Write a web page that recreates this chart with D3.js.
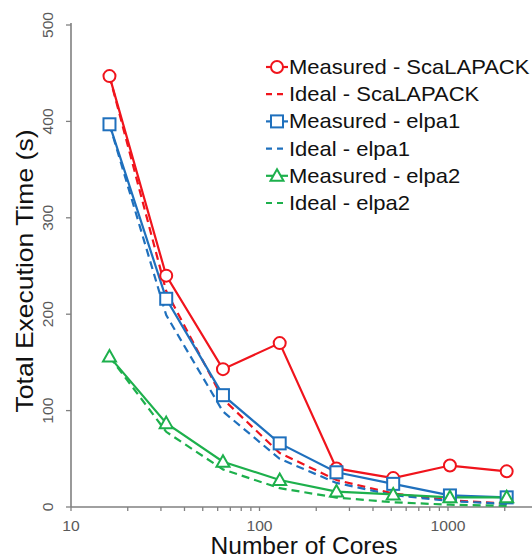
<!DOCTYPE html>
<html>
<head>
<meta charset="utf-8">
<script src="https://cdn.jsdelivr.net/npm/d3@7"></script>
<style>
  html, body { margin: 0; padding: 0; background: #fff; }
  svg { display: block; font-family: "Liberation Sans", Arial, sans-serif; }
</style>
</head>
<body>
<svg id="chart" width="532" height="560"></svg>
<script>
// Core counts on the x axis
const cores = [16, 32, 64, 128, 256, 512, 1024, 2048];

// Total execution time (s) per configuration
const measuredScalapack = [447, 240, 143, 170, 40, 30, 43, 37];
const idealScalapack    = [447, 224, 112, 56, 28, 14, 7, 3.5];
const measuredElpa1     = [397, 216, 116, 66, 36, 24, 12, 10];
const idealElpa1        = [397, 199, 99, 50, 25, 12.4, 6.2, 3.1];
const measuredElpa2     = [156, 87, 47, 28, 16, 13, 10, 10];
const idealElpa2        = [156, 78, 39, 19.5, 9.8, 4.9, 2.4, 1.2];

const yTicks = [0, 100, 200, 300, 400, 500];
const xTicks = [10, 100, 1000];

const seriesNames = [
  "Measured - ScaLAPACK", "Ideal - ScaLAPACK",
  "Measured - elpa1", "Ideal - elpa1",
  "Measured - elpa2", "Ideal - elpa2"
];

const RED = "#f0141c", BLUE = "#1f70bd", GREEN = "#1db04c";

const series = [
  { name: seriesNames[0], values: measuredScalapack, color: RED,   dashed: false, marker: "circle" },
  { name: seriesNames[1], values: idealScalapack,    color: RED,   dashed: true },
  { name: seriesNames[2], values: measuredElpa1,     color: BLUE,  dashed: false, marker: "square" },
  { name: seriesNames[3], values: idealElpa1,        color: BLUE,  dashed: true },
  { name: seriesNames[4], values: measuredElpa2,     color: GREEN, dashed: false, marker: "triangle" },
  { name: seriesNames[5], values: idealElpa2,        color: GREEN, dashed: true }
];

const svg = d3.select("#chart");
const x0 = 71, yBottom = 507, yTop = 25;
const decade = 188.5;

const x = d3.scaleLog().domain([10, 1000]).range([x0, x0 + 2 * decade]);
const y = d3.scaleLinear().domain([0, 500]).range([yBottom, yTop]);
const axisColor = "#808080";

// X axis with log minor ticks, running off the right edge
const gx = svg.append("g").attr("transform", `translate(0,${yBottom})`);
const minor = [];
for (let d = 10; d < 10000; d *= 10) for (let k = 1; k < 10; k++) minor.push(d * k);
gx.append("line").attr("x1", x0).attr("x2", 532).attr("stroke", axisColor).attr("stroke-width", 1.6);
gx.selectAll("line.tick").data(minor.filter(v => x(v) <= 532)).join("line")
  .attr("class", "tick")
  .attr("x1", d => x(d)).attr("x2", d => x(d))
  .attr("y1", 0).attr("y2", 4)
  .attr("stroke", axisColor).attr("stroke-width", 1.3);
gx.selectAll("text").data(xTicks).join("text")
  .attr("transform", d => `translate(${x(d)},24) scale(1.08,1)`)
  .attr("text-anchor", "middle")
  .attr("fill", "#595959")
  .attr("font-size", 14.5)
  .text(d => d);

// Y axis with rotated tick labels
const gy = svg.append("g");
gy.append("line").attr("x1", x0).attr("x2", x0).attr("y1", yTop - 2).attr("y2", yBottom)
  .attr("stroke", axisColor).attr("stroke-width", 1.6);
gy.selectAll("line.tick").data(yTicks).join("line")
  .attr("class", "tick")
  .attr("x1", x0 - 5).attr("x2", x0)
  .attr("y1", d => y(d)).attr("y2", d => y(d))
  .attr("stroke", axisColor).attr("stroke-width", 1.3);
gy.selectAll("text").data(yTicks).join("text")
  .attr("transform", d => `translate(53,${y(d)}) rotate(-90) scale(1.08,1)`)
  .attr("text-anchor", "middle")
  .attr("fill", "#595959")
  .attr("font-size", 14.5)
  .text(d => d);

// Axis titles
svg.append("text")
  .attr("transform", "translate(33,271) rotate(-90)")
  .attr("text-anchor", "middle")
  .attr("font-size", 24)
  .attr("fill", "#111")
  .attr("textLength", 283)
  .attr("lengthAdjust", "spacingAndGlyphs")
  .text("Total Execution Time (s)");
svg.append("text")
  .attr("x", 304).attr("y", 554)
  .attr("text-anchor", "middle")
  .attr("font-size", 23)
  .attr("fill", "#111")
  .attr("textLength", 187)
  .attr("lengthAdjust", "spacingAndGlyphs")
  .text("Number of Cores");

// Lines
const line = d3.line().x((d, i) => x(cores[i])).y(d => y(d));
const gLines = svg.append("g");
series.forEach(s => {
  gLines.append("path")
    .attr("d", line(s.values))
    .attr("fill", "none")
    .attr("stroke", s.color)
    .attr("stroke-width", 2.2)
    .attr("stroke-dasharray", s.dashed ? "8,5" : null);
});

// Markers
function drawMarker(g, type, cx, cy, color) {
  if (type === "circle") {
    g.append("circle").attr("cx", cx).attr("cy", cy).attr("r", 6)
      .attr("fill", "#fff").attr("stroke", color).attr("stroke-width", 2);
  } else if (type === "square") {
    g.append("rect").attr("x", cx - 6).attr("y", cy - 6).attr("width", 12).attr("height", 12)
      .attr("fill", "#fff").attr("stroke", color).attr("stroke-width", 2);
  } else if (type === "triangle") {
    g.append("path")
      .attr("d", `M${cx},${cy - 6.5}L${cx + 6.5},${cy + 5}L${cx - 6.5},${cy + 5}Z`)
      .attr("fill", "#fff").attr("stroke", color).attr("stroke-width", 2);
  }
}
const gMarks = svg.append("g");
series.filter(s => s.marker).forEach(s => {
  s.values.forEach((v, i) => drawMarker(gMarks, s.marker, x(cores[i]), y(v), s.color));
});

// Legend
const legend = svg.append("g").attr("transform", "translate(266,67)");
series.forEach((s, i) => {
  const row = legend.append("g").attr("transform", `translate(0,${i * 27.2})`);
  row.append("line").attr("x1", 0).attr("x2", 22).attr("y1", 0).attr("y2", 0)
    .attr("stroke", s.color).attr("stroke-width", 2.2)
    .attr("stroke-dasharray", s.dashed ? "6,5" : null);
  if (s.marker) drawMarker(row, s.marker, 11, 0, s.color);
  row.append("text")
    .attr("transform", "translate(23,7) scale(1.1,1)")
    .attr("font-size", 20).attr("fill", "#111")
    .text(s.name);
});
</script>
</body>
</html>
